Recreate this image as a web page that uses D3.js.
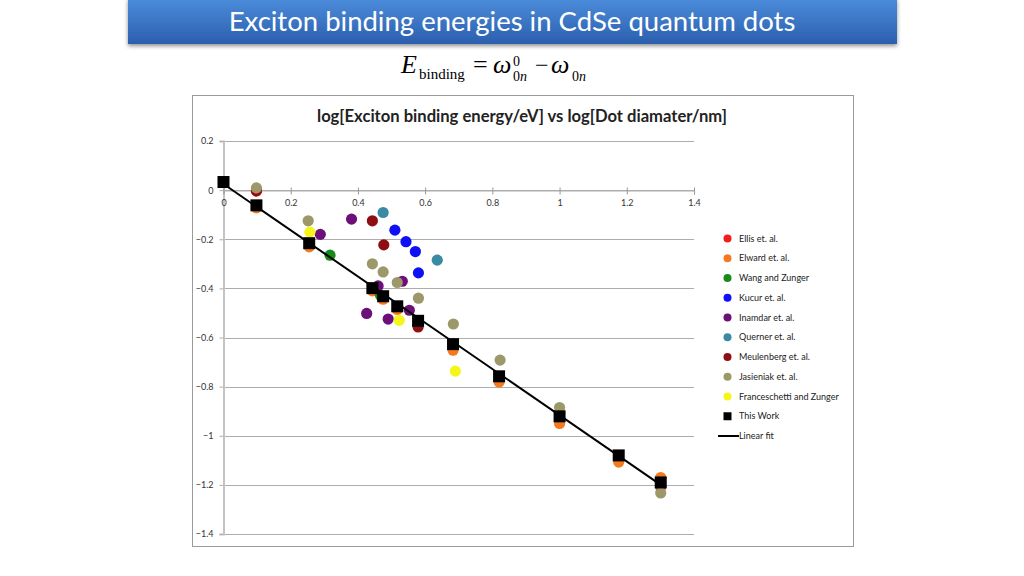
<!DOCTYPE html>
<html><head><meta charset="utf-8">
<script src="https://cdn.jsdelivr.net/npm/d3@7"></script>
<style>
html,body{margin:0;padding:0;background:#fff;}
svg{display:block;}
</style></head>
<body>
<svg id="c" width="1024" height="576"></svg>
<script>
// ---------- data ----------
const xTicks = [0, 0.2, 0.4, 0.6, 0.8, 1, 1.2, 1.4];
const yTicks = [0.2, 0, -0.2, -0.4, -0.6, -0.8, -1, -1.2, -1.4];
const seriesNames = ["Ellis et. al.", "Elward et. al.", "Wang and Zunger", "Kucur et. al.", "Inamdar et. al.",
  "Querner et. al.", "Meulenberg et. al.", "Jasieniak et. al.", "Franceschetti and Zunger", "This Work"];
const seriesColors = ["#f21d1d", "#f57a1f", "#178a17", "#1010f5", "#6c0f78", "#3a8aa3", "#8e0f12", "#9c986a", "#f5f51a", "#000000"];

const ellisX = [0.098, 0.579, 1.301];
const ellisY = [-0.004, -0.55, -1.208];
const elwardX = [0.098, 0.255, 0.443, 0.475, 0.517, 0.683, 0.82, 1.0, 1.176, 1.301];
const elwardY = [-0.072, -0.231, -0.41, -0.444, -0.486, -0.652, -0.781, -0.95, -1.107, -1.17];
const wangX = [0.317, 0.467];
const wangY = [-0.265, -0.428];
const kucurX = [0.51, 0.543, 0.571, 0.58];
const kucurY = [-0.163, -0.21, -0.25, -0.337];
const inamdarX = [0.288, 0.381, 0.426, 0.46, 0.49, 0.532, 0.553];
const inamdarY = [-0.18, -0.118, -0.502, -0.39, -0.525, -0.371, -0.489];
const quernerX = [0.475, 0.636];
const quernerY = [-0.091, -0.285];
const meulenbergX = [0.098, 0.443, 0.477, 0.579];
const meulenbergY = [-0.002, -0.125, -0.223, -0.557];
const jasieniakX = [0.098, 0.252, 0.443, 0.475, 0.517, 0.58, 0.684, 0.823, 1.0, 1.301];
const jasieniakY = [0.009, -0.125, -0.3, -0.333, -0.376, -0.44, -0.545, -0.692, -0.885, -1.233];
const franceschettiX = [0.257, 0.523, 0.69];
const franceschettiY = [-0.171, -0.53, -0.737];
const thisWorkX = [0, 0.098, 0.255, 0.443, 0.475, 0.517, 0.579, 0.683, 0.82, 1.0, 1.176, 1.301];
const thisWorkY = [0.033, -0.062, -0.216, -0.399, -0.432, -0.473, -0.532, -0.627, -0.758, -0.921, -1.08, -1.19];
const fitX = [0, 1.301];
const fitY = [0.025, -1.2];

const seriesXs = [ellisX, elwardX, wangX, kucurX, inamdarX, quernerX, meulenbergX, jasieniakX, franceschettiX, thisWorkX];
const seriesYs = [ellisY, elwardY, wangY, kucurY, inamdarY, quernerY, meulenbergY, jasieniakY, franceschettiY, thisWorkY];

// ---------- drawing ----------
const svg = d3.select("#c");
const defs = svg.append("defs");
const grad = defs.append("linearGradient").attr("id", "hdr").attr("x1", 0).attr("y1", 0).attr("x2", 0).attr("y2", 1);
grad.append("stop").attr("offset", "0%").attr("stop-color", "#4c8ddb");
grad.append("stop").attr("offset", "100%").attr("stop-color", "#2b5fae");
const sh = defs.append("filter").attr("id", "sh").attr("x", "-5%").attr("y", "-20%").attr("width", "110%").attr("height", "160%");
sh.append("feDropShadow").attr("dx", 0).attr("dy", 2).attr("stdDeviation", 2).attr("flood-color", "#000").attr("flood-opacity", 0.45);

svg.append("rect").attr("x", 128).attr("y", -2).attr("width", 769).attr("height", 46)
  .attr("fill", "url(#hdr)").attr("filter", "url(#sh)");
svg.append("text").attr("x", 512).attr("y", 31).attr("text-anchor", "middle")
  .attr("font-family", "Lato, 'Open Sans', sans-serif").attr("font-size", 27.5).attr("fill", "#fff")
  .text("Exciton binding energies in CdSe quantum dots");

// formula
const f = svg.append("g").attr("font-family", "'Liberation Serif', 'DejaVu Serif', serif").attr("fill", "#000");
f.append("text").attr("x", 401).attr("y", 73).attr("font-size", 26).attr("font-style", "italic").text("E");
f.append("text").attr("x", 419).attr("y", 79).attr("font-size", 15).text("binding");
f.append("text").attr("x", 473).attr("y", 73).attr("font-size", 26).text("=");
f.append("text").attr("x", 493).attr("y", 73).attr("font-size", 26).attr("font-style", "italic").text("ω");
f.append("text").attr("x", 513).attr("y", 66).attr("font-size", 14).text("0");
f.append("text").attr("x", 513).attr("y", 81).attr("font-size", 14).text("0");
f.append("text").attr("x", 520).attr("y", 81).attr("font-size", 14).attr("font-style", "italic").text("n");
f.append("text").attr("x", 535).attr("y", 73).attr("font-size", 24).text("−");
f.append("text").attr("x", 551).attr("y", 73).attr("font-size", 26).attr("font-style", "italic").text("ω");
f.append("text").attr("x", 572).attr("y", 81).attr("font-size", 14).text("0");
f.append("text").attr("x", 579).attr("y", 81).attr("font-size", 14).attr("font-style", "italic").text("n");

// chart frame
svg.append("rect").attr("x", 192.5).attr("y", 95.5).attr("width", 661).attr("height", 451)
  .attr("fill", "#fff").attr("stroke", "#9a9a9a").attr("stroke-width", 1);
svg.append("text").attr("x", 522).attr("y", 122).attr("text-anchor", "middle")
  .attr("font-family", "Lato, 'Open Sans', sans-serif").attr("font-weight", "bold").attr("font-size", 16.6).attr("fill", "#222")
  .text("log[Exciton binding energy/eV] vs log[Dot diamater/nm]");

const x = d3.scaleLinear().domain([0, 1.4]).range([223.5, 694]);
const y = d3.scaleLinear().domain([-1.4, 0.2]).range([534, 141]);

// gridlines
svg.append("g").selectAll("line").data(yTicks).join("line")
  .attr("x1", x(0)).attr("x2", x(1.4)).attr("y1", d => Math.round(y(d)) + 0.5).attr("y2", d => Math.round(y(d)) + 0.5)
  .attr("stroke", "#adadad").attr("stroke-width", 1);

const fontAx = "Lato, 'Open Sans', sans-serif";
// y axis
const yAx = svg.append("g").attr("transform", `translate(${x(0)},0)`)
  .call(d3.axisLeft(y).tickValues(yTicks).tickFormat(d3.format("")).tickSize(4).tickPadding(6));
yAx.select(".domain").attr("stroke", "#c4c4c4").attr("stroke-width", 2);
yAx.selectAll(".tick line").attr("stroke", "#adadad");
yAx.selectAll("text").attr("font-family", fontAx).attr("font-size", 9).attr("fill", "#333");

// x axis at y=0
const xAx = svg.append("g").attr("transform", `translate(0,${Math.round(y(0)) + 0.5})`)
  .call(d3.axisBottom(x).tickValues(xTicks).tickFormat(d3.format("")).tickSize(4).tickPadding(5));
xAx.select(".domain").attr("stroke", "#adadad");
xAx.selectAll(".tick line").attr("stroke", "#999").attr("y1", -3);
xAx.selectAll("text").attr("font-family", fontAx).attr("font-size", 9).attr("fill", "#333");

// points
const plot = svg.append("g");
seriesNames.forEach((name, i) => {
  const pts = seriesXs[i].map((v, k) => [v, seriesYs[i][k]]);
  if (name === "This Work") {
    plot.append("g").selectAll("rect").data(pts).join("rect")
      .attr("x", d => x(d[0]) - 6).attr("y", d => y(d[1]) - 6).attr("width", 12).attr("height", 12)
      .attr("fill", seriesColors[i]);
  } else {
    plot.append("g").selectAll("circle").data(pts).join("circle")
      .attr("cx", d => x(d[0])).attr("cy", d => y(d[1])).attr("r", 5.6)
      .attr("fill", seriesColors[i]);
  }
});
// linear fit
plot.append("path").datum(fitX.map((v, k) => [v, fitY[k]]))
  .attr("d", d3.line().x(d => x(d[0])).y(d => y(d[1])))
  .attr("stroke", "#000").attr("stroke-width", 2).attr("fill", "none");

// legend
const legY = d3.scalePoint().domain(seriesNames.concat(["Linear fit"])).range([238.5, 436]);
const leg = svg.append("g").attr("font-family", fontAx).attr("font-size", 9).attr("fill", "#222");
seriesNames.forEach((name, i) => {
  const cy = legY(name);
  if (name === "This Work") {
    leg.append("rect").attr("x", 723.5).attr("y", cy - 4).attr("width", 8).attr("height", 8).attr("fill", "#000");
  } else {
    leg.append("circle").attr("cx", 727.5).attr("cy", cy).attr("r", 4).attr("fill", seriesColors[i]);
  }
  leg.append("text").attr("x", 739).attr("y", cy + 3.2).text(name);
});
leg.append("line").attr("x1", 718).attr("x2", 739).attr("y1", legY("Linear fit")).attr("y2", legY("Linear fit"))
  .attr("stroke", "#000").attr("stroke-width", 2);
leg.append("text").attr("x", 739).attr("y", legY("Linear fit") + 3.2).text("Linear fit");
</script>
</body></html>
